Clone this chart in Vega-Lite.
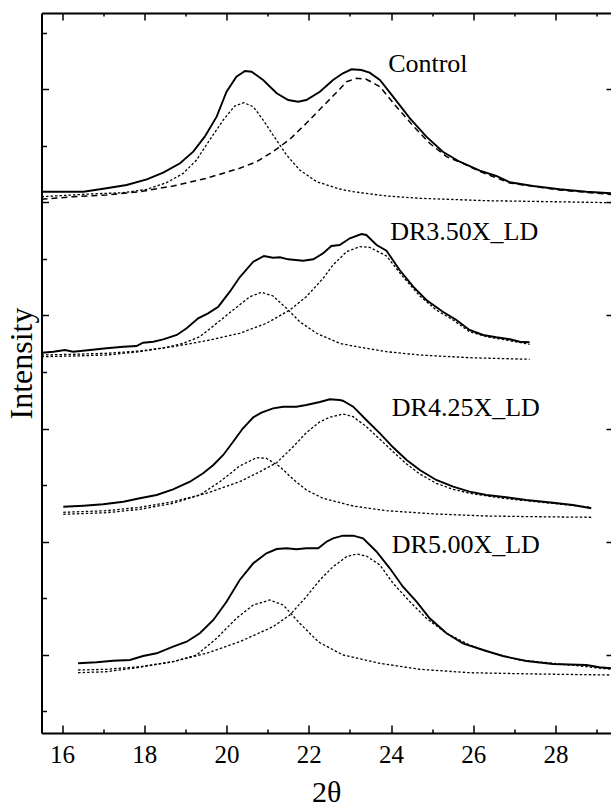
{
  "$schema": "https://vega.github.io/schema/vega-lite/v6.json",
  "width": 569.5,
  "height": 720,
  "autosize": {"type": "none"},
  "padding": {"left": 41.5, "top": 13, "right": 0, "bottom": 74},
  "background": "white",
  "config": {"view": {"stroke": null}, "font": "Liberation Serif"},
  "datasets": {
    "curves": [
      {"s":"Control","t":"total","x":15.50,"y":541.3},{"s":"Control","t":"total","x":16.52,"y":541.3},{"s":"Control","t":"total","x":17.08,"y":544.7},{"s":"Control","t":"total","x":17.57,"y":548},{"s":"Control","t":"total","x":18.06,"y":553.7},{"s":"Control","t":"total","x":18.46,"y":560.3},{"s":"Control","t":"total","x":18.87,"y":569.7},{"s":"Control","t":"total","x":19.19,"y":581.3},{"s":"Control","t":"total","x":19.47,"y":596.3},{"s":"Control","t":"total","x":19.76,"y":616.3},{"s":"Control","t":"total","x":20.00,"y":641.3},{"s":"Control","t":"total","x":20.24,"y":656.3},{"s":"Control","t":"total","x":20.45,"y":662},{"s":"Control","t":"total","x":20.61,"y":661.3},{"s":"Control","t":"total","x":20.89,"y":653},{"s":"Control","t":"total","x":21.22,"y":639.7},{"s":"Control","t":"total","x":21.50,"y":633},{"s":"Control","t":"total","x":21.74,"y":631.3},{"s":"Control","t":"total","x":21.94,"y":633},{"s":"Control","t":"total","x":22.27,"y":641.3},{"s":"Control","t":"total","x":22.59,"y":653},{"s":"Control","t":"total","x":22.83,"y":659.7},{"s":"Control","t":"total","x":23.04,"y":663.7},{"s":"Control","t":"total","x":23.28,"y":663},{"s":"Control","t":"total","x":23.48,"y":660.3},{"s":"Control","t":"total","x":23.73,"y":653},{"s":"Control","t":"total","x":24.05,"y":636.3},{"s":"Control","t":"total","x":24.46,"y":614.7},{"s":"Control","t":"total","x":24.86,"y":596.3},{"s":"Control","t":"total","x":25.26,"y":581.3},{"s":"Control","t":"total","x":25.67,"y":571.3},{"s":"Control","t":"total","x":26.16,"y":562.3},{"s":"Control","t":"total","x":26.56,"y":557},{"s":"Control","t":"total","x":26.89,"y":550.7},{"s":"Control","t":"total","x":27.45,"y":547},{"s":"Control","t":"total","x":28.10,"y":543.7},{"s":"Control","t":"total","x":28.75,"y":541.3},{"s":"Control","t":"total","x":29.35,"y":539.7},

      {"s":"Control","t":"peak1","x":15.50,"y":536.3},{"s":"Control","t":"peak1","x":16.68,"y":539},{"s":"Control","t":"peak1","x":17.49,"y":540.3},{"s":"Control","t":"peak1","x":18.06,"y":543.7},{"s":"Control","t":"peak1","x":18.54,"y":550.3},{"s":"Control","t":"peak1","x":18.95,"y":559.7},{"s":"Control","t":"peak1","x":19.27,"y":573},{"s":"Control","t":"peak1","x":19.59,"y":593},{"s":"Control","t":"peak1","x":19.92,"y":613},{"s":"Control","t":"peak1","x":20.20,"y":627},{"s":"Control","t":"peak1","x":20.42,"y":630.3},{"s":"Control","t":"peak1","x":20.65,"y":626.3},{"s":"Control","t":"peak1","x":20.89,"y":613},{"s":"Control","t":"peak1","x":21.13,"y":598},{"s":"Control","t":"peak1","x":21.46,"y":578},{"s":"Control","t":"peak1","x":21.78,"y":563},{"s":"Control","t":"peak1","x":22.19,"y":551.3},{"s":"Control","t":"peak1","x":22.75,"y":544},{"s":"Control","t":"peak1","x":23.08,"y":541.3},{"s":"Control","t":"peak1","x":23.89,"y":537},{"s":"Control","t":"peak1","x":24.70,"y":534.7},{"s":"Control","t":"peak1","x":26.32,"y":532.3},{"s":"Control","t":"peak1","x":27.94,"y":531.3},{"s":"Control","t":"peak1","x":29.35,"y":530.3},

      {"s":"Control","t":"peak2","x":15.50,"y":533.7},{"s":"Control","t":"peak2","x":16.27,"y":536.3},{"s":"Control","t":"peak2","x":17.08,"y":538},{"s":"Control","t":"peak2","x":17.89,"y":541.3},{"s":"Control","t":"peak2","x":18.70,"y":547},{"s":"Control","t":"peak2","x":19.51,"y":554.7},{"s":"Control","t":"peak2","x":20.32,"y":564.7},{"s":"Control","t":"peak2","x":20.73,"y":571.3},{"s":"Control","t":"peak2","x":21.13,"y":581.3},{"s":"Control","t":"peak2","x":21.54,"y":593.7},{"s":"Control","t":"peak2","x":21.94,"y":609.7},{"s":"Control","t":"peak2","x":22.35,"y":627},{"s":"Control","t":"peak2","x":22.75,"y":643.7},{"s":"Control","t":"peak2","x":22.92,"y":651.3},{"s":"Control","t":"peak2","x":23.16,"y":654.7},{"s":"Control","t":"peak2","x":23.40,"y":653.7},{"s":"Control","t":"peak2","x":23.73,"y":646.3},{"s":"Control","t":"peak2","x":24.13,"y":626.3},{"s":"Control","t":"peak2","x":24.54,"y":607},{"s":"Control","t":"peak2","x":24.94,"y":589.7},{"s":"Control","t":"peak2","x":25.35,"y":576.3},{"s":"Control","t":"peak2","x":25.75,"y":569.7},{"s":"Control","t":"peak2","x":26.16,"y":561.5},{"s":"Control","t":"peak2","x":26.89,"y":550},{"s":"Control","t":"peak2","x":28.10,"y":543},{"s":"Control","t":"peak2","x":29.35,"y":538.5},

      {"s":"DR3.50X_LD","t":"total","x":15.50,"y":380.3},{"s":"DR3.50X_LD","t":"total","x":15.79,"y":381.3},{"s":"DR3.50X_LD","t":"total","x":16.07,"y":383},{"s":"DR3.50X_LD","t":"total","x":16.27,"y":381.3},{"s":"DR3.50X_LD","t":"total","x":16.68,"y":383},{"s":"DR3.50X_LD","t":"total","x":17.08,"y":384.7},{"s":"DR3.50X_LD","t":"total","x":17.49,"y":386.3},{"s":"DR3.50X_LD","t":"total","x":17.81,"y":387},{"s":"DR3.50X_LD","t":"total","x":17.97,"y":390.3},{"s":"DR3.50X_LD","t":"total","x":18.22,"y":391.3},{"s":"DR3.50X_LD","t":"total","x":18.46,"y":393.7},{"s":"DR3.50X_LD","t":"total","x":18.79,"y":398},{"s":"DR3.50X_LD","t":"total","x":19.03,"y":404.7},{"s":"DR3.50X_LD","t":"total","x":19.31,"y":414.7},{"s":"DR3.50X_LD","t":"total","x":19.55,"y":419.7},{"s":"DR3.50X_LD","t":"total","x":19.80,"y":426.3},{"s":"DR3.50X_LD","t":"total","x":20.08,"y":441.3},{"s":"DR3.50X_LD","t":"total","x":20.32,"y":455.7},{"s":"DR3.50X_LD","t":"total","x":20.65,"y":471.3},{"s":"DR3.50X_LD","t":"total","x":20.91,"y":477},{"s":"DR3.50X_LD","t":"total","x":21.13,"y":475.3},{"s":"DR3.50X_LD","t":"total","x":21.30,"y":475.7},{"s":"DR3.50X_LD","t":"total","x":21.50,"y":473.7},{"s":"DR3.50X_LD","t":"total","x":21.86,"y":472.3},{"s":"DR3.50X_LD","t":"total","x":22.11,"y":473.7},{"s":"DR3.50X_LD","t":"total","x":22.35,"y":479.7},{"s":"DR3.50X_LD","t":"total","x":22.55,"y":487},{"s":"DR3.50X_LD","t":"total","x":22.75,"y":488},{"s":"DR3.50X_LD","t":"total","x":23.00,"y":494.7},{"s":"DR3.50X_LD","t":"total","x":23.28,"y":499},{"s":"DR3.50X_LD","t":"total","x":23.40,"y":498},{"s":"DR3.50X_LD","t":"total","x":23.65,"y":488},{"s":"DR3.50X_LD","t":"total","x":23.89,"y":482.3},{"s":"DR3.50X_LD","t":"total","x":24.21,"y":463},{"s":"DR3.50X_LD","t":"total","x":24.54,"y":446.3},{"s":"DR3.50X_LD","t":"total","x":24.86,"y":433},{"s":"DR3.50X_LD","t":"total","x":25.26,"y":421.3},{"s":"DR3.50X_LD","t":"total","x":25.59,"y":413},{"s":"DR3.50X_LD","t":"total","x":25.91,"y":403},{"s":"DR3.50X_LD","t":"total","x":26.24,"y":398},{"s":"DR3.50X_LD","t":"total","x":26.56,"y":395.7},{"s":"DR3.50X_LD","t":"total","x":26.89,"y":393.7},{"s":"DR3.50X_LD","t":"total","x":27.13,"y":391.3},{"s":"DR3.50X_LD","t":"total","x":27.37,"y":390.7},

      {"s":"DR3.50X_LD","t":"peak1","x":15.50,"y":376.3},{"s":"DR3.50X_LD","t":"peak1","x":16.27,"y":377},{"s":"DR3.50X_LD","t":"peak1","x":17.08,"y":378},{"s":"DR3.50X_LD","t":"peak1","x":17.89,"y":381.3},{"s":"DR3.50X_LD","t":"peak1","x":18.54,"y":385.7},{"s":"DR3.50X_LD","t":"peak1","x":18.95,"y":389.7},{"s":"DR3.50X_LD","t":"peak1","x":19.35,"y":396.3},{"s":"DR3.50X_LD","t":"peak1","x":19.76,"y":409.7},{"s":"DR3.50X_LD","t":"peak1","x":20.16,"y":423},{"s":"DR3.50X_LD","t":"peak1","x":20.57,"y":436.3},{"s":"DR3.50X_LD","t":"peak1","x":20.85,"y":440.7},{"s":"DR3.50X_LD","t":"peak1","x":21.13,"y":437},{"s":"DR3.50X_LD","t":"peak1","x":21.46,"y":424.7},{"s":"DR3.50X_LD","t":"peak1","x":21.78,"y":411.3},{"s":"DR3.50X_LD","t":"peak1","x":22.19,"y":399.7},{"s":"DR3.50X_LD","t":"peak1","x":22.75,"y":389.7},{"s":"DR3.50X_LD","t":"peak1","x":23.08,"y":387},{"s":"DR3.50X_LD","t":"peak1","x":23.89,"y":381.3},{"s":"DR3.50X_LD","t":"peak1","x":24.70,"y":378},{"s":"DR3.50X_LD","t":"peak1","x":25.91,"y":375.3},{"s":"DR3.50X_LD","t":"peak1","x":27.37,"y":373.7},

      {"s":"DR3.50X_LD","t":"peak2","x":15.50,"y":378},{"s":"DR3.50X_LD","t":"peak2","x":16.27,"y":378.7},{"s":"DR3.50X_LD","t":"peak2","x":17.08,"y":379.7},{"s":"DR3.50X_LD","t":"peak2","x":17.89,"y":382},{"s":"DR3.50X_LD","t":"peak2","x":18.70,"y":386.3},{"s":"DR3.50X_LD","t":"peak2","x":19.51,"y":392.3},{"s":"DR3.50X_LD","t":"peak2","x":20.32,"y":399.7},{"s":"DR3.50X_LD","t":"peak2","x":20.97,"y":409.7},{"s":"DR3.50X_LD","t":"peak2","x":21.54,"y":423},{"s":"DR3.50X_LD","t":"peak2","x":21.94,"y":436.3},{"s":"DR3.50X_LD","t":"peak2","x":22.35,"y":454.7},{"s":"DR3.50X_LD","t":"peak2","x":22.59,"y":468},{"s":"DR3.50X_LD","t":"peak2","x":22.92,"y":481.3},{"s":"DR3.50X_LD","t":"peak2","x":23.24,"y":486.3},{"s":"DR3.50X_LD","t":"peak2","x":23.48,"y":485.7},{"s":"DR3.50X_LD","t":"peak2","x":23.89,"y":477},{"s":"DR3.50X_LD","t":"peak2","x":24.29,"y":456.3},{"s":"DR3.50X_LD","t":"peak2","x":24.70,"y":437},{"s":"DR3.50X_LD","t":"peak2","x":25.10,"y":423},{"s":"DR3.50X_LD","t":"peak2","x":25.51,"y":413},{"s":"DR3.50X_LD","t":"peak2","x":25.91,"y":401.3},{"s":"DR3.50X_LD","t":"peak2","x":26.32,"y":396.3},{"s":"DR3.50X_LD","t":"peak2","x":26.80,"y":393},{"s":"DR3.50X_LD","t":"peak2","x":27.37,"y":388.7},

      {"s":"DR4.25X_LD","t":"total","x":16.03,"y":226.3},{"s":"DR4.25X_LD","t":"total","x":16.52,"y":227.3},{"s":"DR4.25X_LD","t":"total","x":17.00,"y":228.7},{"s":"DR4.25X_LD","t":"total","x":17.49,"y":231.3},{"s":"DR4.25X_LD","t":"total","x":17.89,"y":234.7},{"s":"DR4.25X_LD","t":"total","x":18.30,"y":238},{"s":"DR4.25X_LD","t":"total","x":18.70,"y":243.7},{"s":"DR4.25X_LD","t":"total","x":19.11,"y":251.3},{"s":"DR4.25X_LD","t":"total","x":19.43,"y":259.7},{"s":"DR4.25X_LD","t":"total","x":19.68,"y":268},{"s":"DR4.25X_LD","t":"total","x":19.92,"y":278},{"s":"DR4.25X_LD","t":"total","x":20.16,"y":291.3},{"s":"DR4.25X_LD","t":"total","x":20.40,"y":304.7},{"s":"DR4.25X_LD","t":"total","x":20.65,"y":315.7},{"s":"DR4.25X_LD","t":"total","x":20.85,"y":320.3},{"s":"DR4.25X_LD","t":"total","x":21.13,"y":324.7},{"s":"DR4.25X_LD","t":"total","x":21.38,"y":326.3},{"s":"DR4.25X_LD","t":"total","x":21.70,"y":326.3},{"s":"DR4.25X_LD","t":"total","x":21.94,"y":328},{"s":"DR4.25X_LD","t":"total","x":22.27,"y":331},{"s":"DR4.25X_LD","t":"total","x":22.51,"y":333.7},{"s":"DR4.25X_LD","t":"total","x":22.75,"y":333},{"s":"DR4.25X_LD","t":"total","x":22.83,"y":332.3},{"s":"DR4.25X_LD","t":"total","x":23.08,"y":326.3},{"s":"DR4.25X_LD","t":"total","x":23.40,"y":313},{"s":"DR4.25X_LD","t":"total","x":23.73,"y":299.7},{"s":"DR4.25X_LD","t":"total","x":24.05,"y":285.7},{"s":"DR4.25X_LD","t":"total","x":24.38,"y":273},{"s":"DR4.25X_LD","t":"total","x":24.70,"y":263},{"s":"DR4.25X_LD","t":"total","x":25.10,"y":253},{"s":"DR4.25X_LD","t":"total","x":25.51,"y":246.3},{"s":"DR4.25X_LD","t":"total","x":25.91,"y":241.3},{"s":"DR4.25X_LD","t":"total","x":26.32,"y":238},{"s":"DR4.25X_LD","t":"total","x":26.80,"y":235.7},{"s":"DR4.25X_LD","t":"total","x":27.29,"y":233},{"s":"DR4.25X_LD","t":"total","x":27.94,"y":230.3},{"s":"DR4.25X_LD","t":"total","x":28.42,"y":228},{"s":"DR4.25X_LD","t":"total","x":28.87,"y":224.7},

      {"s":"DR4.25X_LD","t":"peak1","x":16.03,"y":218.7},{"s":"DR4.25X_LD","t":"peak1","x":17.08,"y":220.3},{"s":"DR4.25X_LD","t":"peak1","x":17.89,"y":223.7},{"s":"DR4.25X_LD","t":"peak1","x":18.70,"y":229.7},{"s":"DR4.25X_LD","t":"peak1","x":19.35,"y":238},{"s":"DR4.25X_LD","t":"peak1","x":19.84,"y":251.3},{"s":"DR4.25X_LD","t":"peak1","x":20.32,"y":267},{"s":"DR4.25X_LD","t":"peak1","x":20.73,"y":275.3},{"s":"DR4.25X_LD","t":"peak1","x":20.97,"y":274.7},{"s":"DR4.25X_LD","t":"peak1","x":21.30,"y":266.3},{"s":"DR4.25X_LD","t":"peak1","x":21.62,"y":253.7},{"s":"DR4.25X_LD","t":"peak1","x":21.94,"y":243},{"s":"DR4.25X_LD","t":"peak1","x":22.35,"y":234.7},{"s":"DR4.25X_LD","t":"peak1","x":23.08,"y":227},{"s":"DR4.25X_LD","t":"peak1","x":23.89,"y":222.3},{"s":"DR4.25X_LD","t":"peak1","x":25.10,"y":219},{"s":"DR4.25X_LD","t":"peak1","x":26.32,"y":217},{"s":"DR4.25X_LD","t":"peak1","x":27.53,"y":216.3},{"s":"DR4.25X_LD","t":"peak1","x":28.87,"y":215.7},

      {"s":"DR4.25X_LD","t":"peak2","x":16.03,"y":220.7},{"s":"DR4.25X_LD","t":"peak2","x":17.08,"y":222.3},{"s":"DR4.25X_LD","t":"peak2","x":17.89,"y":225.7},{"s":"DR4.25X_LD","t":"peak2","x":18.70,"y":231.3},{"s":"DR4.25X_LD","t":"peak2","x":19.51,"y":239.7},{"s":"DR4.25X_LD","t":"peak2","x":20.32,"y":251.3},{"s":"DR4.25X_LD","t":"peak2","x":20.81,"y":261.3},{"s":"DR4.25X_LD","t":"peak2","x":21.22,"y":270.3},{"s":"DR4.25X_LD","t":"peak2","x":21.62,"y":286.3},{"s":"DR4.25X_LD","t":"peak2","x":21.94,"y":300.3},{"s":"DR4.25X_LD","t":"peak2","x":22.27,"y":311.3},{"s":"DR4.25X_LD","t":"peak2","x":22.51,"y":315.7},{"s":"DR4.25X_LD","t":"peak2","x":22.83,"y":319},{"s":"DR4.25X_LD","t":"peak2","x":23.08,"y":316.3},{"s":"DR4.25X_LD","t":"peak2","x":23.40,"y":306.3},{"s":"DR4.25X_LD","t":"peak2","x":23.73,"y":293.7},{"s":"DR4.25X_LD","t":"peak2","x":24.05,"y":281.3},{"s":"DR4.25X_LD","t":"peak2","x":24.38,"y":269},{"s":"DR4.25X_LD","t":"peak2","x":24.70,"y":259},{"s":"DR4.25X_LD","t":"peak2","x":25.10,"y":249.7},{"s":"DR4.25X_LD","t":"peak2","x":25.51,"y":243.7},{"s":"DR4.25X_LD","t":"peak2","x":25.91,"y":239.7},{"s":"DR4.25X_LD","t":"peak2","x":26.72,"y":234.7},{"s":"DR4.25X_LD","t":"peak2","x":27.53,"y":231.3},{"s":"DR4.25X_LD","t":"peak2","x":28.87,"y":225.7},

      {"s":"DR5.00X_LD","t":"total","x":16.39,"y":69.7},{"s":"DR5.00X_LD","t":"total","x":16.84,"y":70.7},{"s":"DR5.00X_LD","t":"total","x":17.24,"y":72.3},{"s":"DR5.00X_LD","t":"total","x":17.65,"y":73},{"s":"DR5.00X_LD","t":"total","x":17.97,"y":77},{"s":"DR5.00X_LD","t":"total","x":18.30,"y":79.7},{"s":"DR5.00X_LD","t":"total","x":18.70,"y":86.3},{"s":"DR5.00X_LD","t":"total","x":19.03,"y":91.3},{"s":"DR5.00X_LD","t":"total","x":19.35,"y":99.7},{"s":"DR5.00X_LD","t":"total","x":19.68,"y":113},{"s":"DR5.00X_LD","t":"total","x":20.00,"y":131.3},{"s":"DR5.00X_LD","t":"total","x":20.32,"y":153},{"s":"DR5.00X_LD","t":"total","x":20.65,"y":169.7},{"s":"DR5.00X_LD","t":"total","x":20.97,"y":179.7},{"s":"DR5.00X_LD","t":"total","x":21.22,"y":184},{"s":"DR5.00X_LD","t":"total","x":21.46,"y":184.7},{"s":"DR5.00X_LD","t":"total","x":21.70,"y":183.7},{"s":"DR5.00X_LD","t":"total","x":21.94,"y":184.7},{"s":"DR5.00X_LD","t":"total","x":22.23,"y":184.7},{"s":"DR5.00X_LD","t":"total","x":22.43,"y":191.3},{"s":"DR5.00X_LD","t":"total","x":22.59,"y":194.7},{"s":"DR5.00X_LD","t":"total","x":22.83,"y":197.3},{"s":"DR5.00X_LD","t":"total","x":23.08,"y":197.3},{"s":"DR5.00X_LD","t":"total","x":23.32,"y":194.7},{"s":"DR5.00X_LD","t":"total","x":23.65,"y":181.3},{"s":"DR5.00X_LD","t":"total","x":23.97,"y":164.7},{"s":"DR5.00X_LD","t":"total","x":24.29,"y":146.3},{"s":"DR5.00X_LD","t":"total","x":24.62,"y":131.3},{"s":"DR5.00X_LD","t":"total","x":24.94,"y":114.7},{"s":"DR5.00X_LD","t":"total","x":25.35,"y":99.7},{"s":"DR5.00X_LD","t":"total","x":25.75,"y":89.7},{"s":"DR5.00X_LD","t":"total","x":26.24,"y":83},{"s":"DR5.00X_LD","t":"total","x":26.72,"y":77},{"s":"DR5.00X_LD","t":"total","x":27.29,"y":72},{"s":"DR5.00X_LD","t":"total","x":27.94,"y":69},{"s":"DR5.00X_LD","t":"total","x":28.75,"y":68},{"s":"DR5.00X_LD","t":"total","x":29.07,"y":65.7},{"s":"DR5.00X_LD","t":"total","x":29.35,"y":64.7},

      {"s":"DR5.00X_LD","t":"peak1","x":16.39,"y":60.3},{"s":"DR5.00X_LD","t":"peak1","x":17.08,"y":61.3},{"s":"DR5.00X_LD","t":"peak1","x":17.89,"y":65.7},{"s":"DR5.00X_LD","t":"peak1","x":18.70,"y":71.3},{"s":"DR5.00X_LD","t":"peak1","x":19.27,"y":78},{"s":"DR5.00X_LD","t":"peak1","x":19.76,"y":94.7},{"s":"DR5.00X_LD","t":"peak1","x":20.24,"y":114.7},{"s":"DR5.00X_LD","t":"peak1","x":20.65,"y":128},{"s":"DR5.00X_LD","t":"peak1","x":21.05,"y":133},{"s":"DR5.00X_LD","t":"peak1","x":21.38,"y":128},{"s":"DR5.00X_LD","t":"peak1","x":21.78,"y":109.7},{"s":"DR5.00X_LD","t":"peak1","x":22.19,"y":93},{"s":"DR5.00X_LD","t":"peak1","x":22.27,"y":90.3},{"s":"DR5.00X_LD","t":"peak1","x":22.83,"y":78},{"s":"DR5.00X_LD","t":"peak1","x":23.73,"y":69.7},{"s":"DR5.00X_LD","t":"peak1","x":24.70,"y":63.7},{"s":"DR5.00X_LD","t":"peak1","x":25.91,"y":60.3},{"s":"DR5.00X_LD","t":"peak1","x":27.53,"y":59},{"s":"DR5.00X_LD","t":"peak1","x":29.35,"y":58},

      {"s":"DR5.00X_LD","t":"peak2","x":16.39,"y":63},{"s":"DR5.00X_LD","t":"peak2","x":17.08,"y":63.7},{"s":"DR5.00X_LD","t":"peak2","x":17.89,"y":66.3},{"s":"DR5.00X_LD","t":"peak2","x":18.70,"y":71.3},{"s":"DR5.00X_LD","t":"peak2","x":19.51,"y":79.7},{"s":"DR5.00X_LD","t":"peak2","x":20.32,"y":91.3},{"s":"DR5.00X_LD","t":"peak2","x":21.13,"y":106.3},{"s":"DR5.00X_LD","t":"peak2","x":21.54,"y":118},{"s":"DR5.00X_LD","t":"peak2","x":21.94,"y":136.3},{"s":"DR5.00X_LD","t":"peak2","x":22.27,"y":153},{"s":"DR5.00X_LD","t":"peak2","x":22.59,"y":166.3},{"s":"DR5.00X_LD","t":"peak2","x":22.92,"y":176.3},{"s":"DR5.00X_LD","t":"peak2","x":23.16,"y":179},{"s":"DR5.00X_LD","t":"peak2","x":23.40,"y":177},{"s":"DR5.00X_LD","t":"peak2","x":23.73,"y":168},{"s":"DR5.00X_LD","t":"peak2","x":24.05,"y":149.7},{"s":"DR5.00X_LD","t":"peak2","x":24.46,"y":131.3},{"s":"DR5.00X_LD","t":"peak2","x":24.86,"y":114.7},{"s":"DR5.00X_LD","t":"peak2","x":25.35,"y":99.7},{"s":"DR5.00X_LD","t":"peak2","x":25.91,"y":88},{"s":"DR5.00X_LD","t":"peak2","x":26.48,"y":79.7},{"s":"DR5.00X_LD","t":"peak2","x":27.13,"y":73},{"s":"DR5.00X_LD","t":"peak2","x":27.94,"y":69.7},{"s":"DR5.00X_LD","t":"peak2","x":28.75,"y":66.3},{"s":"DR5.00X_LD","t":"peak2","x":29.35,"y":63.7}
    ],
    "labels": [
      {"s":"Control","lx":23.93,"ly":661},
      {"s":"DR3.50X_LD","lx":23.98,"ly":493},
      {"s":"DR4.25X_LD","lx":24.02,"ly":317},
      {"s":"DR5.00X_LD","lx":24.02,"ly":180}
    ]
  },
  "layer": [
    {
      "data": {"name": "curves"},
      "transform": [{"filter": "datum.t === 'total'"}],
      "mark": {"type": "line", "color": "black", "strokeWidth": 1.9, "clip": true},
      "encoding": {
        "x": {"field": "x", "type": "quantitative",
          "scale": {"domain": [15.5, 29.35], "nice": false, "zero": false},
          "axis": {"orient": "bottom", "values": [16,17,18,19,20,21,22,23,24,25,26,27,28,29],
            "grid": false, "domain": true, "domainColor": "black", "domainWidth": 2,
            "ticks": true, "tickColor": "black", "tickWidth": 1.5,
            "tickSize": {"condition": {"test": "datum.value % 2 === 0", "value": -8}, "value": -4},
            "labelExpr": "datum.value % 2 === 0 ? datum.label : ''",
            "labelFont": "Liberation Serif", "labelFontSize": 25, "labelColor": "black",
            "labelPadding": 17, "labelBaseline": "top", "labelFlush": false, "labelOverlap": false,
            "title": "2θ", "titleFont": "Liberation Serif", "titleFontSize": 30, "titleFontWeight": "normal",
            "titleColor": "black", "titleBaseline": "alphabetic", "titleY": 68}},
        "y": {"field": "y", "type": "quantitative",
          "scale": {"domain": [0, 720], "nice": false, "zero": false},
          "axis": {"orient": "left", "values": [22,78.5,135,191.5,248,304.5,361,417.5,474,530.5,587,643.5,700],
            "grid": false, "domain": true, "domainColor": "black", "domainWidth": 2,
            "ticks": true, "tickColor": "black", "tickWidth": 1.5,
            "tickSize": {"condition": {"test": "indexof([78.5,191.5,304.5,417.5,530.5,643.5], datum.value) >= 0", "value": -7}, "value": -5},
            "labels": false,
            "title": "Intensity", "titleFont": "Liberation Serif", "titleFontSize": 32, "titleFontWeight": "normal",
            "titleColor": "black", "titleAngle": 270, "titleBaseline": "bottom", "titleAlign": "center", "titleX": -3, "titleY": 350}},
        "detail": {"field": "s"}
      }
    },
    {
      "data": {"name": "curves"},
      "transform": [{"filter": "datum.t !== 'total' && !(datum.s === 'Control' && datum.t === 'peak2')"}],
      "mark": {"type": "line", "color": "black", "strokeWidth": 1.3, "strokeDash": [2.5, 2], "clip": true},
      "encoding": {
        "x": {"field": "x", "type": "quantitative",
          "scale": {"domain": [15.5, 29.35], "nice": false, "zero": false},
          "axis": {"orient": "top", "values": [16,17,18,19,20,21,22,23,24,25,26,27,28,29],
            "grid": false, "domain": true, "domainColor": "black", "domainWidth": 2,
            "ticks": true, "tickColor": "black", "tickWidth": 1.5,
            "tickSize": {"condition": {"test": "datum.value % 2 === 0", "value": -7}, "value": -3},
            "labels": false, "title": null}},
        "y": {"field": "y", "type": "quantitative",
          "scale": {"domain": [0, 720], "nice": false, "zero": false},
          "axis": {"orient": "right", "values": [78.5,191.5,304.5,417.5,530.5,643.5],
            "grid": false, "domain": false, "ticks": true, "tickColor": "black", "tickWidth": 1.5,
            "tickSize": -5, "labels": false, "title": null}},
        "detail": [{"field": "s"}, {"field": "t"}]
      }
    },
    {
      "data": {"name": "curves"},
      "transform": [{"filter": "datum.s === 'Control' && datum.t === 'peak2'"}],
      "mark": {"type": "line", "color": "black", "strokeWidth": 1.5, "strokeDash": [6, 4], "clip": true},
      "encoding": {
        "x": {"field": "x", "type": "quantitative", "scale": {"domain": [15.5, 29.35], "nice": false, "zero": false}, "axis": null},
        "y": {"field": "y", "type": "quantitative", "scale": {"domain": [0, 720], "nice": false, "zero": false}, "axis": null}
      }
    },
    {
      "data": {"name": "labels"},
      "mark": {"type": "text", "align": "left", "baseline": "alphabetic", "font": "Liberation Serif", "fontSize": 26, "color": "black"},
      "encoding": {
        "x": {"field": "lx", "type": "quantitative", "axis": null},
        "y": {"field": "ly", "type": "quantitative", "axis": null},
        "text": {"field": "s"}
      }
    }
  ],
  "resolve": {"axis": {"x": "independent", "y": "independent"}}
}
